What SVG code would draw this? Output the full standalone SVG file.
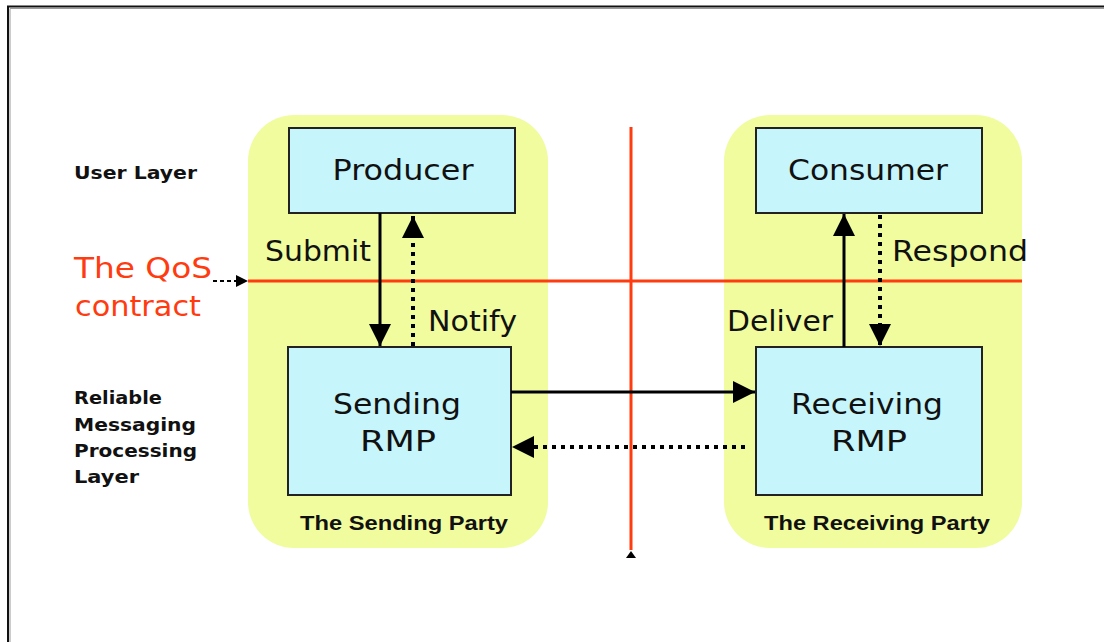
<svg xmlns="http://www.w3.org/2000/svg" width="1104" height="642" viewBox="0 0 1104 642">
  <style>
    .party { fill: #f0fc9e; }
    .box { fill: #c6f6fc; stroke: #222; stroke-width: 2; }
    .big { font-family: "DejaVu Sans", Verdana, sans-serif; font-size: 29px; fill: #111; }
    .lbl { font-family: "DejaVu Sans", Verdana, sans-serif; font-size: 29px; fill: #111; }
    .layer { font-family: "DejaVu Sans", Verdana, sans-serif; font-size: 18px; font-weight: bold; fill: #111; }
    .pname { font-family: "Liberation Sans", Arial, sans-serif; font-size: 20px; font-weight: bold; fill: #111; }
    .qos { font-family: "DejaVu Sans", Verdana, sans-serif; font-size: 29px; fill: #ff3b10; }
    .solid { stroke: #000; stroke-width: 3; fill: none; }
    .dotted { stroke: #000; stroke-width: 4; stroke-dasharray: 4 5; fill: none; }
    .red { stroke: #ff3b10; stroke-width: 3; fill: none; }
  </style>
  <defs>
    <marker id="head" viewBox="0 0 10 10" refX="10" refY="5" markerUnits="userSpaceOnUse" markerWidth="24" markerHeight="22" orient="auto">
      <path d="M0,0 L10,5 L0,10 Z" fill="#000"/>
    </marker>
    <marker id="smallhead" viewBox="0 0 10 10" refX="10" refY="5" markerUnits="userSpaceOnUse" markerWidth="12" markerHeight="12" orient="auto">
      <path d="M0,0 L10,5 L0,10 Z" fill="#000"/>
    </marker>
  </defs>

  <rect width="1104" height="642" fill="#fff"/>
  <!-- page frame -->
  <path d="M8,642 L8,6.5 L1104,6.5" fill="none" stroke="#111" stroke-width="2"/>
  <path d="M10,642 L10,8.5 L1104,8.5" fill="none" stroke="#999" stroke-width="1"/>

  <!-- parties -->
  <g id="sending-party">
    <rect class="party" x="248" y="115" width="300" height="433" rx="46"/>
    <text class="pname" x="404" y="530" text-anchor="middle" textLength="208" lengthAdjust="spacingAndGlyphs">The Sending Party</text>
  </g>
  <g id="receiving-party">
    <rect class="party" x="724" y="115" width="298" height="433" rx="46"/>
    <text class="pname" x="877" y="530" text-anchor="middle" textLength="226" lengthAdjust="spacingAndGlyphs">The Receiving Party</text>
  </g>

  <!-- layer labels -->
  <g id="user-layer">
    <text class="layer" x="74" y="179" textLength="123" lengthAdjust="spacingAndGlyphs">User Layer</text>
  </g>
  <g id="rmp-layer">
    <text class="layer" x="74" y="404" textLength="88" lengthAdjust="spacingAndGlyphs">Reliable</text>
    <text class="layer" x="74" y="431" textLength="122" lengthAdjust="spacingAndGlyphs">Messaging</text>
    <text class="layer" x="74" y="457" textLength="123" lengthAdjust="spacingAndGlyphs">Processing</text>
    <text class="layer" x="74" y="483" textLength="65" lengthAdjust="spacingAndGlyphs">Layer</text>
  </g>

  <!-- boundary lines -->
  <g id="boundaries">
    <line class="red" x1="631" y1="127" x2="631" y2="550"/>
    <path d="M631,551 L636,558 L626,558 Z" fill="#000"/>
    <line class="red" x1="248" y1="281" x2="1022" y2="281"/>
  </g>

  <g id="qos-contract">
    <text class="qos" x="74" y="278" textLength="138" lengthAdjust="spacingAndGlyphs">The QoS</text>
    <text class="qos" x="75" y="316" textLength="126" lengthAdjust="spacingAndGlyphs">contract</text>
  </g>

  <!-- nodes -->
  <g id="producer">
    <rect class="box" x="289" y="128" width="226" height="85"/>
    <text class="big" x="403" y="180" text-anchor="middle" textLength="141" lengthAdjust="spacingAndGlyphs">Producer</text>
  </g>
  <g id="consumer">
    <rect class="box" x="756" y="128" width="226" height="85"/>
    <text class="big" x="868" y="180" text-anchor="middle" textLength="160" lengthAdjust="spacingAndGlyphs">Consumer</text>
  </g>
  <g id="sending-rmp">
    <rect class="box" x="288" y="347" width="223" height="148"/>
    <text class="big" x="397" y="414" text-anchor="middle" textLength="128" lengthAdjust="spacingAndGlyphs">Sending</text>
    <text class="big" x="398" y="451" text-anchor="middle" textLength="76" lengthAdjust="spacingAndGlyphs">RMP</text>
  </g>
  <g id="receiving-rmp">
    <rect class="box" x="756" y="347" width="226" height="148"/>
    <text class="big" x="867" y="414" text-anchor="middle" textLength="152" lengthAdjust="spacingAndGlyphs">Receiving</text>
    <text class="big" x="869" y="451" text-anchor="middle" textLength="76" lengthAdjust="spacingAndGlyphs">RMP</text>
  </g>

  <!-- connectors -->
  <g id="connectors">
    <line class="solid" x1="380" y1="213" x2="380" y2="346" marker-end="url(#head)"/>
    <line class="dotted" x1="413" y1="346" x2="413" y2="216" marker-end="url(#head)"/>
    <line class="solid" x1="844" y1="347" x2="844" y2="214" marker-end="url(#head)"/>
    <line class="dotted" x1="880" y1="215" x2="880" y2="346" marker-end="url(#head)"/>
    <line class="solid" x1="511" y1="392" x2="755" y2="392" marker-end="url(#head)"/>
    <line class="dotted" x1="745" y1="447" x2="512" y2="447" marker-end="url(#head)"/>
    <line x1="213" y1="281" x2="248" y2="281" stroke="#000" stroke-width="2" stroke-dasharray="4 3" marker-end="url(#smallhead)"/>
    <text class="lbl" x="265" y="261" textLength="106" lengthAdjust="spacingAndGlyphs">Submit</text>
    <text class="lbl" x="428" y="331" textLength="89" lengthAdjust="spacingAndGlyphs">Notify</text>
    <text class="lbl" x="892" y="261" textLength="136" lengthAdjust="spacingAndGlyphs">Respond</text>
    <text class="lbl" x="727" y="331" textLength="106" lengthAdjust="spacingAndGlyphs">Deliver</text>
  </g>
</svg>
